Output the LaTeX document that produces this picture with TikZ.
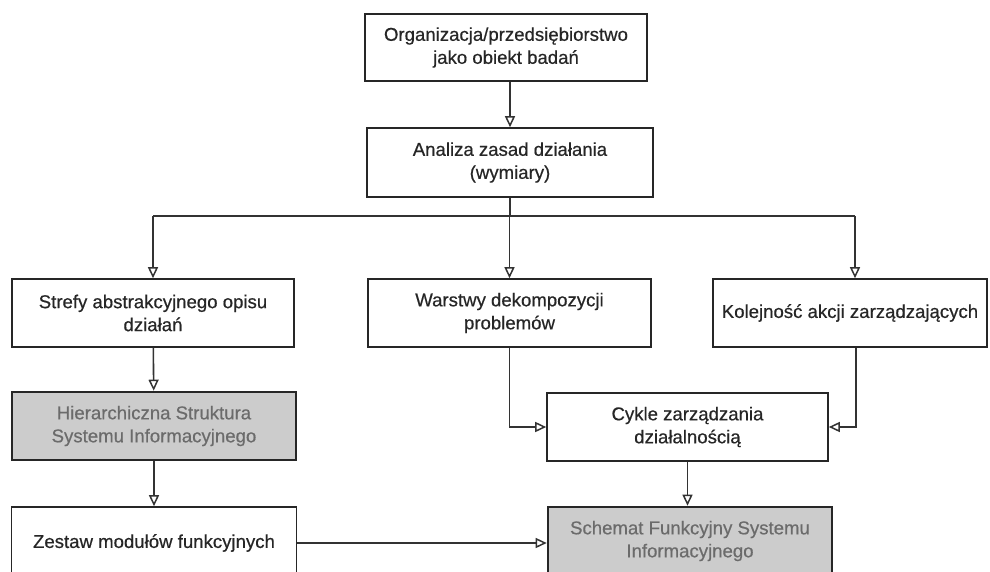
\documentclass[tikz,border=0pt]{standalone}
\usepackage{fontspec}
\setmainfont{Liberation Sans}
\newfontfamily\boxfont{Liberation Sans}[FakeBold=0.5]
\usetikzlibrary{arrows.meta}
\begin{document}
\begin{tikzpicture}[x=1pt,y=-1pt,
  box/.style={draw=black!85,line width=1.6pt,fill=white,align=center,
    inner sep=2pt,text=black!85,font=\boxfont\fontsize{18.6}{23}\selectfont},
  shade/.style={box,line width=2.6pt,fill=black!20,text=black!58},
  flow/.style={draw=black!80,line width=1.6pt,
    -{Triangle[open,length=11pt,width=10pt,line width=1.5pt]}},
  link/.style={draw=black!80,line width=1.6pt}]
\useasboundingbox (0,0) rectangle (990,571);
\clip (0,0) rectangle (990,571);

\node[box,minimum width=282,minimum height=67] (org) at (506,47.5)
  {Organizacja/przedsiębiorstwo\\jako obiekt badań};
\node[box,minimum width=286,minimum height=69] (anal) at (510,162.5)
  {Analiza zasad działania\\(wymiary)};
\node[box,minimum width=282,minimum height=68] (strefy) at (153,313)
  {Strefy abstrakcyjnego opisu\\działań};
\node[box,minimum width=283,minimum height=68] (warstwy) at (509.5,313)
  {Warstwy dekompozycji\\problemów};
\node[box,minimum width=274,minimum height=68] (kolej) at (850,313)
  {Kolejność akcji zarządzających};
\node[shade,minimum width=284,minimum height=68] (hier) at (154,426)
  {Hierarchiczna Struktura\\Systemu Informacyjnego};
\node[box,minimum width=281,minimum height=68] (cykle) at (687.5,427)
  {Cykle zarządzania\\działalnością};
\node[box,minimum width=285,minimum height=72] (zestaw) at (154,543)
  {Zestaw modułów funkcyjnych};
\node[shade,minimum width=284,minimum height=68] (schemat) at (690,541)
  {Schemat Funkcyjny Systemu\\Informacyjnego};

\coordinate (split) at (510,216);
\coordinate (kin) at ([xshift=5pt]kolej.north);
\coordinate (kout) at ([xshift=6pt]kolej.south);

\draw[flow] (org.south -| anal.north) -- (anal.north);
\draw[link] (anal.south) -- (split);
\draw[link] (split -| strefy.north) -- (split -| kin);
\draw[flow] (split -| strefy.north) -- (strefy.north);
\draw[flow] (split) -- (split -| warstwy.north) -- (warstwy.north);
\draw[flow] (split -| kin) -- (kin);
\draw[flow] (strefy) -- (hier);
\draw[flow] (hier) -- (zestaw);
\draw[flow] (warstwy.south) |- (cykle.west);
\draw[flow] (kout) |- (cykle.east);
\draw[flow] (cykle) -- (cykle.south |- schemat.north);
\draw[flow] (zestaw.east) -- (zestaw.east -| schemat.west);
\end{tikzpicture}
\end{document}
